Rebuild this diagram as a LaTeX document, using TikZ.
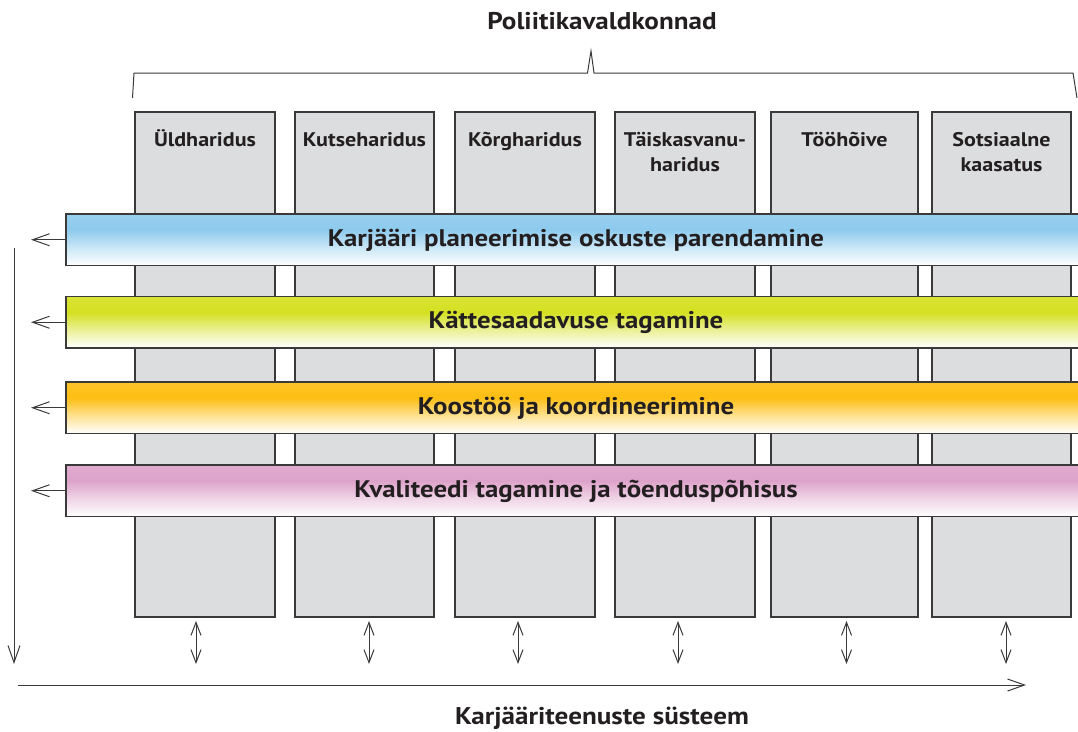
\documentclass[tikz,border=0pt]{standalone}
\usepackage{fontspec}
\setmainfont{PT Sans}[FakeStretch=1.12]
\usetikzlibrary{arrows.meta}
\definecolor{ink}{HTML}{231F20}
\definecolor{edgec}{HTML}{3A3A3A}
\definecolor{colgray}{HTML}{DCDDDE}
\definecolor{bblue}{HTML}{8DCAED}
\definecolor{bgreen}{HTML}{D4E020}
\definecolor{borange}{HTML}{FDBE12}
\definecolor{bpink}{HTML}{DDA2CA}
\newcommand\mkbandshade[2]{%
  \pgfdeclareverticalshading{#1}{100bp}{color(0bp)=(white); color(25bp)=(white); color(42bp)=(#2!45!white); color(60bp)=(#2); color(75bp)=(#2!90!white); color(100bp)=(#2!90!white)}}
\mkbandshade{shblue}{bblue}
\mkbandshade{shgreen}{bgreen}
\mkbandshade{shorange}{borange}
\mkbandshade{shpink}{bpink}
\tikzset{
  colbox/.style={draw=edgec, line width=1.3pt, fill=colgray, inner sep=0pt, outer sep=0pt,
    minimum height=505pt, anchor=north west},
  collabel/.style={font=\fontsize{19.7}{25}\selectfont\bfseries, text=ink, align=center, inner sep=0pt, anchor=base},
  bandbox/.style={draw=edgec, line width=1.3pt, inner sep=0pt, outer sep=0pt, anchor=north west,
    minimum width=1020pt, minimum height=51.5pt, text height=13pt, text depth=0pt,
    font=\fontsize{24}{28}\selectfont\bfseries, text=ink},
  bigtitle/.style={font=\fontsize{24.2}{28}\selectfont\bfseries, text=ink, inner sep=0pt, anchor=base},
  thinline/.style={draw=edgec, line width=1pt},
  sidearrow/.style={thinline, -{Straight Barb[length=17pt, width=12pt]}},
  twoway/.style={thinline, {Straight Barb[length=13pt, width=10pt]}-{Straight Barb[length=13pt, width=10pt]}},
}
\begin{document}
\begin{tikzpicture}[x=1pt, y=-1pt]
\useasboundingbox (0,0) rectangle (1078,731);
\clip (0,0) rectangle (1078,731);

% title and brace
\node[bigtitle] (title) at (602,29.5) {Poliitikavaldkonnad};
\coordinate (brL) at (132.5,98);
\coordinate (brR) at (1077,98);
\draw[thinline] (brL) -- (134,73) -- (587.5,73) -- (591,51) -- (594,73) -- (1073,73) -- (brR);

% columns
\node[colbox, minimum width=140pt] (c1) at (135,112) {};
\node[colbox, minimum width=139pt] (c2) at (295,112) {};
\node[colbox, minimum width=140pt] (c3) at (455,112) {};
\node[colbox, minimum width=140pt] (c4) at (615,112) {};
\node[colbox, minimum width=147pt] (c5) at (771,112) {};
\node[colbox, minimum width=139pt] (c6) at (932,112) {};

\node[collabel] (l1) at (c1.north |- 0,146) {Üldharidus};
\node[collabel] (l2) at (c2.north |- 0,146) {Kutseharidus};
\node[collabel] (l3) at (c3.north |- 0,146) {Kõrgharidus};
\node[collabel] (l4) at (c4.north |- 0,171) {Täiskasvanu-\\haridus};
\node[collabel] (l5) at (c5.north |- 0,146) {Tööhõive};
\node[collabel] (l6) at (c6.north |- 0,171) {Sotsiaalne\\kaasatus};

% bands
\node[bandbox, shading=shblue] (b1) at (66,214) {Karjääri planeerimise oskuste parendamine};
\node[bandbox, shading=shgreen] (b2) at (66,296.5) {Kättesaadavuse tagamine};
\node[bandbox, shading=shorange] (b3) at (66,382) {Koostöö ja koordineerimine};
\node[bandbox, shading=shpink] (b4) at (66,465) {Kvaliteedi tagamine ja tõenduspõhisus};

% left arrows of bands
\coordinate (a1) at (31,0 |- b1.west);
\coordinate (a2) at (31,0 |- b2.west);
\coordinate (a3) at (31,0 |- b3.west);
\coordinate (a4) at (31,0 |- b4.west);
\draw[sidearrow] (b1.west) -- (a1);
\draw[sidearrow] (b2.west) -- (a2);
\draw[sidearrow] (b3.west) -- (a3);
\draw[sidearrow] (b4.west) -- (a4);

% vertical axis
\coordinate (vtop) at (14,248);
\coordinate (vbot) at (14,664);
\draw[sidearrow] (vtop) -- (vbot);

% horizontal axis
\coordinate (hleft) at (18,685);
\coordinate (hright) at (1026,685);
\draw[sidearrow] (hleft) -- (hright);
\node[bigtitle] (bottomtitle) at (602,724.5) {Karjääriteenuste süsteem};

% two-way arrows
\foreach \i/\x in {1/196, 2/369, 3/518, 4/678, 5/846.5, 6/1006} {
  \coordinate (u\i) at (\x,621);
  \coordinate (d\i) at (\x,664);
  \draw[twoway] (u\i) -- (d\i);
}
\end{tikzpicture}
\end{document}
